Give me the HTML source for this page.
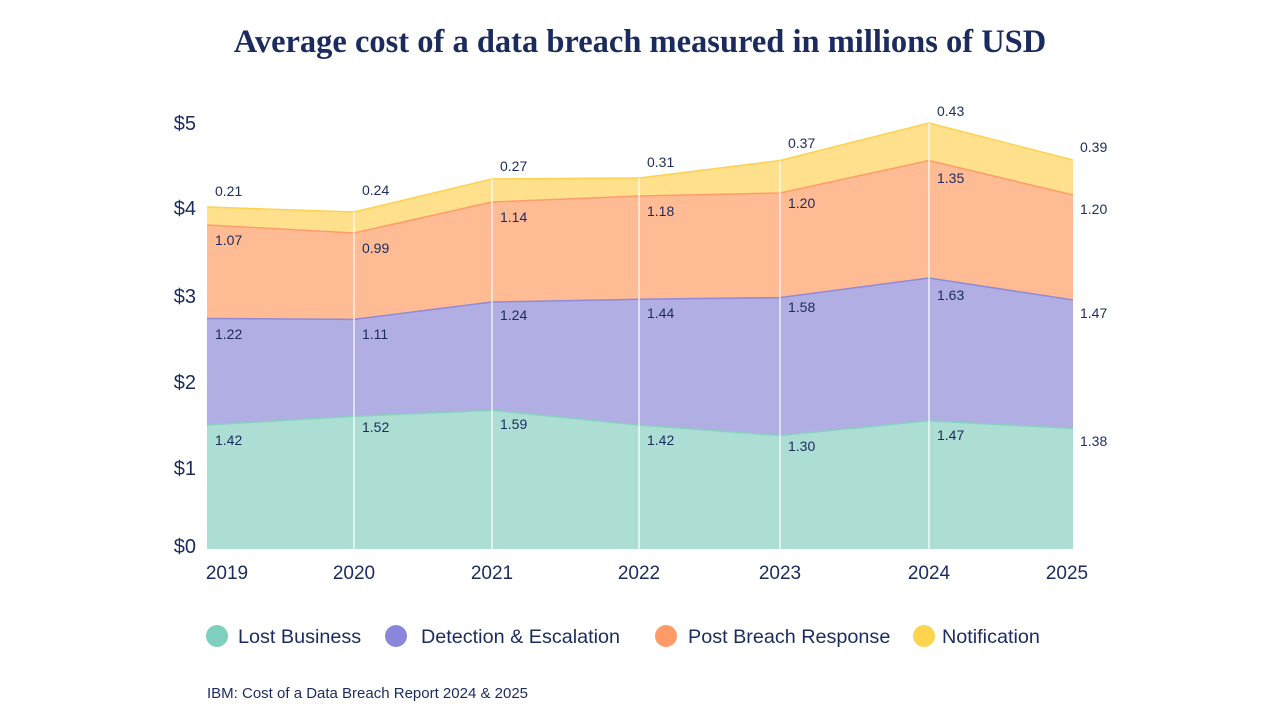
<!DOCTYPE html>
<html><head><meta charset="utf-8"><style>
body{margin:0;background:#fff;}
svg{display:block;font-family:"Liberation Sans",sans-serif;}
</style></head><body>
<svg width="1280" height="720" viewBox="0 0 1280 720">
<rect width="1280" height="720" fill="#fff"/>
<text x="640" y="52" text-anchor="middle" font-family="Liberation Serif,serif" font-weight="bold" font-size="32.5" fill="#1b2b5e">Average cost of a data breach measured in millions of USD</text>
<polygon fill="#ffe08c" points="207,207 354,212 492,179 639,178 780,160.5 929,123 1073,160 1073,195 929,160.5 780,193 639,196 492,202 354,233 207,225"/>
<polygon fill="#ffbb94" points="207,225 354,233 492,202 639,196 780,193 929,160.5 1073,195 1073,300 929,278 780,297.6 639,299.3 492,302 354,319.4 207,318.5"/>
<polygon fill="#b1aee3" points="207,318.5 354,319.4 492,302 639,299.3 780,297.6 929,278 1073,300 1073,428.5 929,420.7 780,435.5 639,425 492,410.2 354,416.3 207,425"/>
<polygon fill="#acded4" points="207,425 354,416.3 492,410.2 639,425 780,435.5 929,420.7 1073,428.5 1073,549 207,549"/>
<g fill="none" stroke-width="1.5">
<polyline stroke="#ffd24d" points="207,207 354,212 492,179 639,178 780,160.5 929,123 1073,160"/>
<polyline stroke="#ff9d6a" points="207,225 354,233 492,202 639,196 780,193 929,160.5 1073,195"/>
<polyline stroke="#8f8ad9" points="207,318.5 354,319.4 492,302 639,299.3 780,297.6 929,278 1073,300"/>
<polyline stroke="#88d0c0" points="207,425 354,416.3 492,410.2 639,425 780,435.5 929,420.7 1073,428.5"/>
</g>
<g stroke="#fff" stroke-width="1.2">
<line x1="354" y1="212" x2="354" y2="549"/><line x1="492" y1="179" x2="492" y2="549"/>
<line x1="639" y1="178" x2="639" y2="549"/><line x1="780" y1="160.5" x2="780" y2="549"/>
<line x1="929" y1="123" x2="929" y2="549"/>
</g>
<g font-size="14" fill="#1b2b5e">
<text x="215" y="196">0.21</text><text x="215" y="245">1.07</text><text x="215" y="339">1.22</text><text x="215" y="445">1.42</text>
<text x="362" y="195">0.24</text><text x="362" y="253">0.99</text><text x="362" y="339">1.11</text><text x="362" y="432">1.52</text>
<text x="500" y="171">0.27</text><text x="500" y="222">1.14</text><text x="500" y="320">1.24</text><text x="500" y="429">1.59</text>
<text x="647" y="167">0.31</text><text x="647" y="216">1.18</text><text x="647" y="318">1.44</text><text x="647" y="445">1.42</text>
<text x="788" y="148">0.37</text><text x="788" y="208">1.20</text><text x="788" y="312">1.58</text><text x="788" y="451">1.30</text>
<text x="937" y="116">0.43</text><text x="937" y="183">1.35</text><text x="937" y="300">1.63</text><text x="937" y="440">1.47</text>
<text x="1080" y="152">0.39</text><text x="1080" y="214">1.20</text><text x="1080" y="318">1.47</text><text x="1080" y="446">1.38</text>
</g>
<g font-size="20" fill="#1b2b5e" text-anchor="end">
<text x="196" y="130">$5</text><text x="196" y="215">$4</text><text x="196" y="303">$3</text>
<text x="196" y="389">$2</text><text x="196" y="475">$1</text><text x="196" y="553">$0</text>
</g>
<g font-size="19" fill="#1b2b5e" text-anchor="middle">
<text x="227" y="579">2019</text><text x="354" y="579">2020</text><text x="492" y="579">2021</text>
<text x="639" y="579">2022</text><text x="780" y="579">2023</text><text x="929" y="579">2024</text><text x="1067" y="579">2025</text>
</g>
<circle cx="217" cy="636" r="11" fill="#7fcfbf"/><circle cx="396" cy="636" r="11" fill="#8b86d9"/>
<circle cx="666" cy="636" r="11" fill="#ff9b66"/><circle cx="924" cy="636" r="11" fill="#ffd44f"/>
<g font-size="19.8" fill="#1b2b5e">
<text x="238" y="643">Lost Business</text><text x="421" y="643">Detection &amp; Escalation</text>
<text x="688" y="643">Post Breach Response</text><text x="942" y="643">Notification</text>
</g>
<text x="207" y="698" font-size="15" fill="#1b2b5e">IBM: Cost of a Data Breach Report 2024 &amp; 2025</text>
</svg>
</body></html>
